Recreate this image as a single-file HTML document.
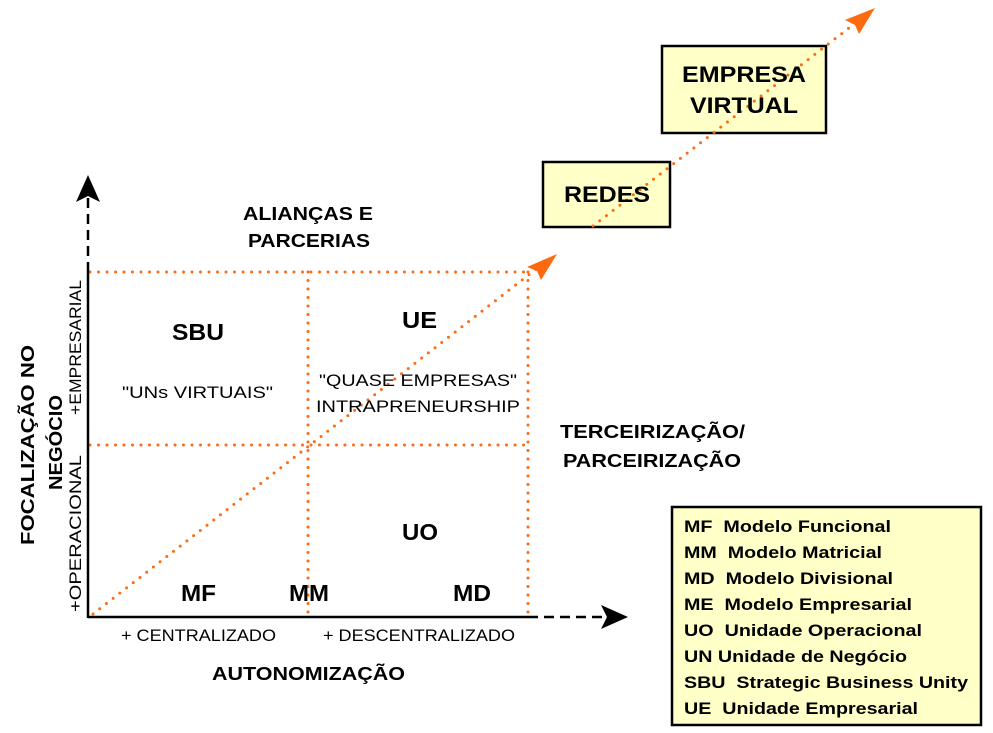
<!DOCTYPE html>
<html><head><meta charset="utf-8"><style>
html,body{margin:0;padding:0;background:#fff;}
svg{display:block;font-family:"Liberation Sans",Arial,sans-serif;}
.pre text{white-space:pre;}
</style></head><body>
<svg width="993" height="733" viewBox="0 0 993 733" xmlns="http://www.w3.org/2000/svg">
<rect x="543" y="162" width="127" height="65" fill="#ffffc8" stroke="#000" stroke-width="2.5"/>
<rect x="662" y="46" width="164" height="87" fill="#ffffc8" stroke="#000" stroke-width="2.5"/>
<rect x="672" y="507" width="309" height="218" fill="#ffffc8" stroke="#000" stroke-width="2.5"/>
<g stroke="#ff6a10" stroke-width="3" stroke-linecap="round" stroke-dasharray="0 8.5" fill="none">
<line x1="90" y1="272" x2="528" y2="272"/>
<line x1="90" y1="445" x2="528" y2="445"/>
<line x1="308" y1="272" x2="308" y2="617"/>
<line x1="528" y1="272" x2="528" y2="617"/>
<line x1="93" y1="614" x2="540" y2="266"/>
<line x1="593" y1="226" x2="858" y2="21"/>
</g>
<polygon points="557,254 527,267 537,271 541,280" fill="#ff6a10"/>
<polygon points="875,8 845,20 855,25 859,34" fill="#ff6a10"/>
<line x1="88" y1="618" x2="88" y2="272" stroke="#000" stroke-width="2.5"/>
<line x1="88" y1="272" x2="88" y2="195" stroke="#000" stroke-width="2.5" stroke-dasharray="10 6"/>
<polygon points="88,175 76,202 88,196 100,202" fill="#000"/>
<line x1="88" y1="617" x2="528" y2="617" stroke="#000" stroke-width="2.5"/>
<line x1="528" y1="617" x2="608" y2="617" stroke="#000" stroke-width="2.5" stroke-dasharray="10 6"/>
<polygon points="628,617 601,605 607,617 601,629" fill="#000"/>
<g font-weight="bold" fill="#000">
<text x="564" y="202" font-size="22" textLength="86" lengthAdjust="spacingAndGlyphs">REDES</text>
<text x="682" y="82" font-size="22" textLength="124" lengthAdjust="spacingAndGlyphs">EMPRESA</text>
<text x="690" y="113" font-size="22" textLength="108" lengthAdjust="spacingAndGlyphs">VIRTUAL</text>
<text x="243" y="220" font-size="18" textLength="130" lengthAdjust="spacingAndGlyphs">ALIANÇAS E</text>
<text x="248" y="247" font-size="18" textLength="122" lengthAdjust="spacingAndGlyphs">PARCERIAS</text>
<text x="560" y="438" font-size="18" textLength="185" lengthAdjust="spacingAndGlyphs">TERCEIRIZAÇÃO/</text>
<text x="563" y="467" font-size="18" textLength="178" lengthAdjust="spacingAndGlyphs">PARCEIRIZAÇÃO</text>
<text x="172" y="340" font-size="23" textLength="52" lengthAdjust="spacingAndGlyphs">SBU</text>
<text x="402" y="328" font-size="23" textLength="35" lengthAdjust="spacingAndGlyphs">UE</text>
<text x="402" y="540" font-size="23" textLength="36" lengthAdjust="spacingAndGlyphs">UO</text>
<text x="181" y="601" font-size="23" textLength="35" lengthAdjust="spacingAndGlyphs">MF</text>
<text x="289" y="601" font-size="23" textLength="40" lengthAdjust="spacingAndGlyphs">MM</text>
<text x="453" y="601" font-size="23" textLength="38" lengthAdjust="spacingAndGlyphs">MD</text>
<text x="212" y="680" font-size="18" textLength="193" lengthAdjust="spacingAndGlyphs">AUTONOMIZAÇÃO</text>
<text transform="translate(34,545) rotate(-90)" font-size="18" textLength="200" lengthAdjust="spacingAndGlyphs">FOCALIZAÇÃO NO</text>
<text transform="translate(62,490) rotate(-90)" font-size="18" textLength="95" lengthAdjust="spacingAndGlyphs">NEGÓCIO</text>
<g font-size="17" class="pre">
<text x="684" y="532" textLength="207" lengthAdjust="spacingAndGlyphs">MF  Modelo Funcional</text>
<text x="684" y="558" textLength="198" lengthAdjust="spacingAndGlyphs">MM  Modelo Matricial</text>
<text x="684" y="584" textLength="209" lengthAdjust="spacingAndGlyphs">MD  Modelo Divisional</text>
<text x="684" y="610" textLength="228" lengthAdjust="spacingAndGlyphs">ME  Modelo Empresarial</text>
<text x="684" y="636" textLength="238" lengthAdjust="spacingAndGlyphs">UO  Unidade Operacional</text>
<text x="684" y="662" textLength="223" lengthAdjust="spacingAndGlyphs">UN Unidade de Negócio</text>
<text x="684" y="688" textLength="284" lengthAdjust="spacingAndGlyphs">SBU  Strategic Business Unity</text>
<text x="684" y="714" textLength="234" lengthAdjust="spacingAndGlyphs">UE  Unidade Empresarial</text>
</g>
</g>
<g fill="#000" font-size="17">
<text x="122" y="398" textLength="151" lengthAdjust="spacingAndGlyphs">"UNs VIRTUAIS"</text>
<text x="319" y="386" textLength="198" lengthAdjust="spacingAndGlyphs">"QUASE EMPRESAS"</text>
<text x="316" y="412" textLength="204" lengthAdjust="spacingAndGlyphs">INTRAPRENEURSHIP</text>
<text x="121" y="641" textLength="155" lengthAdjust="spacingAndGlyphs">+ CENTRALIZADO</text>
<text x="323" y="641" textLength="192" lengthAdjust="spacingAndGlyphs">+ DESCENTRALIZADO</text>
<text transform="translate(81,415) rotate(-90)" textLength="135" lengthAdjust="spacingAndGlyphs">+EMPRESARIAL</text>
<text transform="translate(81,612) rotate(-90)" textLength="157" lengthAdjust="spacingAndGlyphs">+OPERACIONAL</text>
</g>
</svg>
</body></html>
